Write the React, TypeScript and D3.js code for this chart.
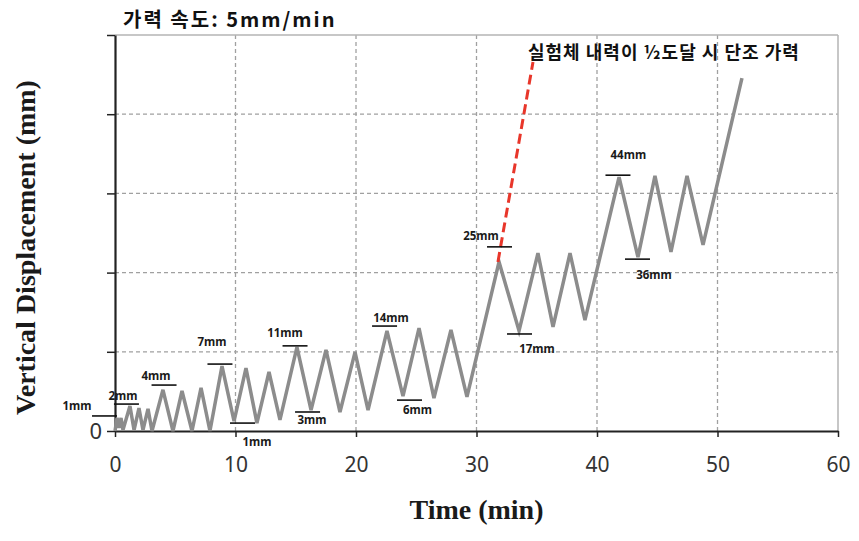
import { useEffect, useRef } from 'react'
import * as d3 from 'd3'

// 시간(min) / 변위 (그래프 단위, 0~100 스케일로 읽음)
const times = [
  0, 0.17, 0.33, 0.5, 0.66,
  1.24, 1.58, 1.99, 2.32, 2.74, 3.07,
  3.98, 4.81, 5.56, 6.39, 7.14, 7.88,
  8.88, 9.88, 10.87, 11.78, 12.78, 13.69,
  15.1, 16.27, 17.51, 18.67, 19.92, 21.0,
  22.57, 23.9, 25.23, 26.47, 27.88, 29.21,
  31.87, 33.53, 35.1, 36.35, 37.76, 39.0,
  41.83, 43.4, 44.81, 46.14, 47.47, 48.8,
  52.03
]
const displacement = [
  0, 3.3, 0.8, 3.3, 0.25,
  6.3, 0.25, 5.8, 0.25, 5.6, 0,
  10.4, 0, 10.1, 0, 10.9, 0,
  16.4, 2.5, 15.9, 2.0, 14.9, 2.8,
  21.2, 5.3, 20.5, 4.8, 19.9, 5.3,
  25.3, 8.8, 26.0, 8.3, 25.5, 8.6,
  42.7, 25.3, 44.9, 26.3, 44.9, 28.0,
  64.1, 43.9, 64.4, 45.2, 64.4, 47.0,
  89.1
]

// 단조 가력 (빨간 점선)
const monoTimes = [31.78, 34.69]
const monoValues = [42.7, 93.2]

// 표시선 (라벨, 선 중심, 라벨 중심)
const markerLabels = ['1mm', '2mm', '4mm', '7mm', '1mm', '11mm', '3mm', '14mm', '6mm', '25mm', '17mm', '44mm', '36mm']
const markerTimes = [-0.87, 0.95, 4.07, 8.71, 10.58, 14.94, 15.98, 22.37, 24.44, 31.91, 33.57, 41.74, 43.36]
const markerValues = [3.8, 6.8, 11.6, 16.9, 2.0, 21.5, 4.8, 26.5, 7.8, 46.5, 24.5, 64.6, 43.4]
const labelTimes = [-3.15, 0.66, 3.4, 8.05, 11.78, 14.11, 16.35, 22.9, 25.1, 30.37, 35.02, 42.6, 44.73]
const labelValues = [6.3, 8.8, 13.9, 22.5, -2.8, 24.7, 2.8, 28.5, 5.3, 49.2, 20.7, 69.7, 39.4]

const xTicks = [0, 10, 20, 30, 40, 50, 60]
const yTicks = [0, 20, 40, 60, 80, 100]
const yTickLabels = ['0', '', '', '', '', '']

const title = '가력 속도: 5mm/min'
const note = '실험체 내력이 ½도달 시 단조 가력'

export default function App() {
  const svgRef = useRef<SVGSVGElement>(null)

  useEffect(() => {
    const width = 859
    const height = 541
    const margin = { top: 35, right: 21, bottom: 110, left: 115 }
    const innerW = width - margin.left - margin.right
    const innerH = height - margin.top - margin.bottom

    const svg = d3.select(svgRef.current)
    svg.selectAll('*').remove()
    svg.attr('width', width).attr('height', height)

    const x = d3.scaleLinear().domain([0, 60]).range([0, innerW])
    const y = d3.scaleLinear().domain([0, 100]).range([innerH, 0])

    const g = svg.append('g').attr('transform', `translate(${margin.left},${margin.top})`)

    // 격자
    g.selectAll('.vgrid')
      .data(xTicks.filter(d => d > 0 && d < 60))
      .enter()
      .append('line')
      .attr('x1', d => x(d)).attr('x2', d => x(d))
      .attr('y1', 0).attr('y2', innerH)
      .attr('stroke', '#a0a0a0')
      .attr('stroke-width', 1.3)
      .attr('stroke-dasharray', '4,3')

    g.selectAll('.hgrid')
      .data(yTicks.filter(d => d > 0 && d < 100))
      .enter()
      .append('line')
      .attr('x1', 0).attr('x2', innerW)
      .attr('y1', d => y(d)).attr('y2', d => y(d))
      .attr('stroke', '#a0a0a0')
      .attr('stroke-width', 1.3)
      .attr('stroke-dasharray', '4,3')

    // 위/오른쪽 테두리
    g.append('line')
      .attr('x1', 0).attr('x2', innerW).attr('y1', y(100)).attr('y2', y(100))
      .attr('stroke', '#b4b4b4').attr('stroke-width', 1.5)
    g.append('line')
      .attr('x1', x(60)).attr('x2', x(60)).attr('y1', 0).attr('y2', innerH)
      .attr('stroke', '#b4b4b4').attr('stroke-width', 1.5)

    // 축
    const xAxis = g.append('g')
      .attr('transform', `translate(0,${innerH})`)
      .call(d3.axisBottom(x).tickValues(xTicks).tickSize(6).tickSizeOuter(0).tickPadding(20))
    xAxis.select('.domain').attr('stroke', '#222').attr('stroke-width', 2.2)
    xAxis.selectAll('line').attr('stroke', '#222').attr('stroke-width', 1.5)
    xAxis.selectAll('text')
      .attr('font-family', '"Noto Sans", sans-serif')
      .attr('font-size', 21)
      .attr('fill', '#333')

    const yAxis = g.append('g')
      .call(d3.axisLeft(y).tickValues(yTicks).tickSize(8).tickSizeOuter(0).tickPadding(5)
        .tickFormat((_d, i) => yTickLabels[i]))
    yAxis.select('.domain').attr('stroke', '#222').attr('stroke-width', 2.2)
    yAxis.selectAll('line').attr('stroke', '#222').attr('stroke-width', 1.5)
    yAxis.selectAll('text')
      .attr('font-family', '"Noto Sans", sans-serif')
      .attr('font-size', 22)
      .attr('fill', '#333')

    // 변위 이력
    const line = d3.line<number>()
      .x((_d, i) => x(times[i]))
      .y(d => y(d))
    g.append('path')
      .datum(displacement)
      .attr('d', line)
      .attr('fill', 'none')
      .attr('stroke', '#8c8c8c')
      .attr('stroke-width', 3.5)
      .attr('stroke-linejoin', 'miter')

    // 단조 가력
    const monoLine = d3.line<number>()
      .x((_d, i) => x(monoTimes[i]))
      .y(d => y(d))
    g.append('path')
      .datum(monoValues)
      .attr('d', monoLine)
      .attr('fill', 'none')
      .attr('stroke', '#e8362a')
      .attr('stroke-width', 3)
      .attr('stroke-dasharray', '10,5')

    // 표시선과 라벨
    const halfLen = 12.5
    g.selectAll('.marker')
      .data(markerLabels)
      .enter()
      .append('line')
      .attr('x1', (_d, i) => x(markerTimes[i]) - halfLen)
      .attr('x2', (_d, i) => x(markerTimes[i]) + halfLen)
      .attr('y1', (_d, i) => y(markerValues[i]))
      .attr('y2', (_d, i) => y(markerValues[i]))
      .attr('stroke', '#111')
      .attr('stroke-width', 1.6)

    g.selectAll('.marker-label')
      .data(markerLabels)
      .enter()
      .append('text')
      .attr('x', (_d, i) => x(labelTimes[i]))
      .attr('y', (_d, i) => y(labelValues[i]))
      .attr('dy', '0.35em')
      .attr('text-anchor', 'middle')
      .attr('font-family', '"Noto Sans", sans-serif')
      .attr('font-weight', 700)
      .attr('font-size', 11.5)
      .attr('fill', '#1a1a1a')
      .text(d => d)

    // 제목 및 주석
    svg.append('text')
      .attr('x', 123)
      .attr('y', 20)
      .attr('dy', '0.35em')
      .attr('font-family', '"Noto Sans CJK KR", sans-serif')
      .attr('font-weight', 700)
      .attr('font-size', 20)
      .attr('letter-spacing', 2)
      .attr('fill', '#111')
      .text(title)

    svg.append('text')
      .attr('x', 528)
      .attr('y', 53)
      .attr('dy', '0.35em')
      .attr('font-family', '"Noto Sans CJK KR", sans-serif')
      .attr('font-weight', 700)
      .attr('font-size', 18)
      .attr('letter-spacing', 1)
      .attr('fill', '#111')
      .text(note)

    // 축 제목
    svg.append('text')
      .attr('x', margin.left + innerW / 2)
      .attr('y', 509)
      .attr('dy', '0.35em')
      .attr('text-anchor', 'middle')
      .attr('font-family', '"Liberation Serif", serif')
      .attr('font-weight', 700)
      .attr('font-size', 28)
      .attr('fill', '#1a1a1a')
      .text('Time (min)')

    svg.append('text')
      .attr('transform', `translate(25,${(77 + 418) / 2}) rotate(-90)`)
      .attr('dy', '0.35em')
      .attr('text-anchor', 'middle')
      .attr('font-family', '"Liberation Serif", serif')
      .attr('font-weight', 700)
      .attr('font-size', 28)
      .attr('fill', '#1a1a1a')
      .text('Vertical Displacement (mm)')
  }, [])

  return (
    <div style={{ position: 'fixed', left: 0, top: 0, width: 859, height: 541, background: '#fff' }}>
      <svg ref={svgRef} style={{ display: 'block' }}></svg>
    </div>
  )
}
